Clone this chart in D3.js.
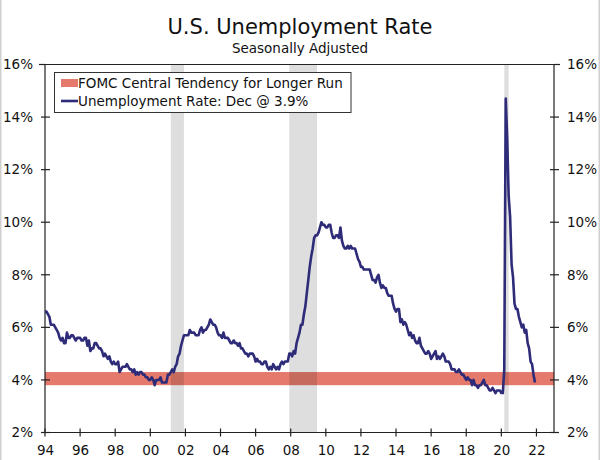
<!DOCTYPE html>
<html>
<head>
<meta charset="utf-8">
<script src="https://cdn.jsdelivr.net/npm/d3@7"></script>
<style>
	body { margin: 0; background: #fff; }
	svg text { font-family: "DejaVu Sans", Verdana, sans-serif; fill: #111; }
</style>
</head>
<body>
<svg id="chart" width="600" height="460"></svg>
<script>
var startYear = 1994;

// monthly, seasonally adjusted, Jan 1994 .. Dec 2021
var unemploymentRate = [
	6.6, 6.6, 6.5, 6.4, 6.1, 6.1, 6.1, 6.0, 5.9, 5.8, 5.6, 5.5, // 94
	5.6, 5.4, 5.4, 5.8, 5.6, 5.6, 5.7, 5.7, 5.6, 5.5, 5.6, 5.6, // 95
	5.6, 5.5, 5.5, 5.6, 5.6, 5.3, 5.5, 5.1, 5.2, 5.2, 5.4, 5.4, // 96
	5.3, 5.2, 5.2, 5.1, 4.9, 5.0, 4.9, 4.8, 4.9, 4.7, 4.6, 4.7, // 97
	4.6, 4.6, 4.7, 4.3, 4.4, 4.5, 4.5, 4.5, 4.6, 4.5, 4.4, 4.4, // 98
	4.3, 4.4, 4.2, 4.3, 4.2, 4.3, 4.3, 4.2, 4.2, 4.1, 4.1, 4.0, // 99
	4.0, 4.1, 4.0, 3.8, 4.0, 4.0, 4.0, 4.1, 3.9, 3.9, 3.9, 3.9, // 00
	4.2, 4.2, 4.3, 4.4, 4.3, 4.5, 4.6, 4.9, 5.0, 5.3, 5.5, 5.7, // 01
	5.7, 5.7, 5.7, 5.9, 5.8, 5.8, 5.8, 5.7, 5.7, 5.7, 5.9, 6.0, // 02
	5.8, 5.9, 5.9, 6.0, 6.1, 6.3, 6.2, 6.1, 6.1, 6.0, 5.8, 5.7, // 03
	5.7, 5.6, 5.8, 5.6, 5.6, 5.6, 5.5, 5.4, 5.4, 5.5, 5.4, 5.4, // 04
	5.3, 5.4, 5.2, 5.2, 5.1, 5.0, 5.0, 4.9, 5.0, 5.0, 5.0, 4.9, // 05
	4.7, 4.8, 4.7, 4.7, 4.6, 4.6, 4.7, 4.7, 4.5, 4.4, 4.5, 4.4, // 06
	4.6, 4.5, 4.4, 4.5, 4.4, 4.6, 4.7, 4.6, 4.7, 4.7, 4.7, 5.0, // 07
	5.0, 4.9, 5.1, 5.0, 5.4, 5.6, 5.8, 6.1, 6.1, 6.5, 6.8, 7.3, // 08
	7.8, 8.3, 8.7, 9.0, 9.4, 9.5, 9.5, 9.6, 9.8, 10.0, 9.9, 9.9, // 09
	9.8, 9.8, 9.9, 9.9, 9.6, 9.4, 9.4, 9.5, 9.5, 9.4, 9.8, 9.3, // 10
	9.1, 9.0, 9.0, 9.1, 9.0, 9.1, 9.0, 9.0, 9.0, 8.8, 8.6, 8.5, // 11
	8.3, 8.3, 8.2, 8.2, 8.2, 8.2, 8.2, 8.0, 7.8, 7.8, 7.7, 7.9, // 12
	8.0, 7.7, 7.5, 7.6, 7.5, 7.5, 7.3, 7.2, 7.2, 7.2, 6.9, 6.7, // 13
	6.6, 6.7, 6.7, 6.2, 6.3, 6.1, 6.2, 6.1, 5.9, 5.7, 5.8, 5.6, // 14
	5.7, 5.5, 5.4, 5.4, 5.6, 5.3, 5.2, 5.1, 5.0, 5.0, 5.1, 5.0, // 15
	4.8, 4.9, 5.0, 5.1, 4.8, 4.9, 4.8, 4.9, 5.0, 4.9, 4.7, 4.7, // 16
	4.7, 4.6, 4.4, 4.4, 4.4, 4.3, 4.3, 4.4, 4.3, 4.2, 4.2, 4.1, // 17
	4.0, 4.1, 4.0, 4.0, 3.8, 4.0, 3.8, 3.8, 3.7, 3.8, 3.8, 3.9, // 18
	4.0, 3.8, 3.8, 3.7, 3.6, 3.6, 3.7, 3.6, 3.5, 3.6, 3.6, 3.6, // 19
	3.5, 3.5, 4.4, 14.7, 13.2, 11.0, 10.2, 8.4, 7.9, 6.9, 6.7, 6.7, // 20
	6.4, 6.2, 6.0, 6.1, 5.8, 5.9, 5.4, 5.2, 4.7, 4.6, 4.2, 3.9  // 21
];

// recessions as [start, end] in fractional years
var recessions = [ [2001.167, 2001.917], [2007.917, 2009.5], [2020.167, 2020.417] ];
var fomcLongerRun = [3.8, 4.3];

var yTicks = [2, 4, 6, 8, 10, 12, 14, 16];
var xTicks = [1994, 1996, 1998, 2000, 2002, 2004, 2006, 2008, 2010, 2012, 2014, 2016, 2018, 2020, 2022];

var legendLabels = ["FOMC Central Tendency for Longer Run", "Unemployment Rate: Dec @ 3.9%"];

var lineColor = "#2e2b78",
	bandColor = "#e57a6c";

var margin = { top: 64.5, right: 46, bottom: 27.5, left: 45 },
	width = 600 - margin.left - margin.right,
	height = 460 - margin.top - margin.bottom;

var svg = d3.select("#chart");

svg.append("text")
	.attr("x", 300).attr("y", 34)
	.attr("text-anchor", "middle")
	.style("font-size", "21px")
	.text("U.S. Unemployment Rate");
svg.append("text")
	.attr("x", 300).attr("y", 53)
	.attr("text-anchor", "middle")
	.style("font-size", "13.5px")
	.text("Seasonally Adjusted");

// thin frame on the sides of the picture
svg.append("line").attr("x1", 0.75).attr("x2", 0.75).attr("y1", 0).attr("y2", 460)
	.attr("stroke", "#cfcfcf").attr("stroke-width", 1.5);
svg.append("line").attr("x1", 599.25).attr("x2", 599.25).attr("y1", 0).attr("y2", 460)
	.attr("stroke", "#cfcfcf").attr("stroke-width", 1.5);

var g = svg.append("g")
	.attr("transform", "translate(" + margin.left + "," + margin.top + ")");

var x = d3.scaleLinear().domain([1994, 2023]).range([0, width]);
var y = d3.scaleLinear().domain([2, 16]).range([height, 0]);

// FOMC band
g.append("rect")
	.attr("x", 0).attr("width", width)
	.attr("y", y(fomcLongerRun[1]))
	.attr("height", y(fomcLongerRun[0]) - y(fomcLongerRun[1]))
	.attr("fill", bandColor);

// recession shading
g.selectAll("rect.recession")
	.data(recessions)
	.enter().append("rect").classed("recession", true)
	.attr("x", function(d){ return x(d[0]); })
	.attr("width", function(d){ return x(d[1]) - x(d[0]); })
	.attr("y", 0).attr("height", height)
	.attr("fill", "#000").attr("fill-opacity", 0.13);

// axes
var tickSize = 4;
var leftAxis = d3.axisLeft(y).tickValues(yTicks).tickSize(0).tickPadding(12)
	.tickFormat(function(d){ return d + "%"; });
var rightAxis = d3.axisRight(y).tickValues(yTicks).tickSize(0).tickPadding(13)
	.tickFormat(function(d){ return d + "%"; });
var bottomAxis = d3.axisBottom(x).tickValues(xTicks).tickSize(0).tickPadding(13)
	.tickFormat(function(d){ return d3.format("02")(d % 100); });

function styleAxis( sel ){
	sel.select(".domain").remove();
	sel.selectAll("text").style("font-size", "13.5px").attr("fill", "#111")
		.style("font-family", "\"DejaVu Sans\", Verdana, sans-serif");
}

g.append("g").call(leftAxis).call(styleAxis);
g.append("g").attr("transform", "translate(" + width + ",0)").call(rightAxis).call(styleAxis);
g.append("g").attr("transform", "translate(0," + height + ")").call(bottomAxis).call(styleAxis);

// frame: left, top, right, bottom
g.append("path")
	.attr("d", "M0," + height + "V0H" + width + "V" + height + "H0")
	.attr("fill", "none").attr("stroke", "#222").attr("stroke-width", 1.2);

// cross ticks on both y axes, inward/outward ticks on x axis
[0, width].forEach(function(px){
	g.selectAll(null)
		.data(yTicks.filter(function(d){ return d != 16; }))
		.enter().append("line")
		.attr("x1", px - tickSize).attr("x2", px + tickSize + 1)
		.attr("y1", function(d){ return y(d); }).attr("y2", function(d){ return y(d); })
		.attr("stroke", "#222").attr("stroke-width", 1.2);
});
g.append("line").attr("x1", width).attr("x2", width + tickSize + 2)
	.attr("y1", 0).attr("y2", 0).attr("stroke", "#222").attr("stroke-width", 1.2);
g.append("line").attr("x1", -tickSize - 2).attr("x2", 0)
	.attr("y1", 0).attr("y2", 0).attr("stroke", "#222").attr("stroke-width", 1.2);
g.selectAll(null)
	.data(xTicks)
	.enter().append("line")
	.attr("x1", function(d){ return x(d); }).attr("x2", function(d){ return x(d); })
	.attr("y1", height - tickSize).attr("y2", height + tickSize)
	.attr("stroke", "#222").attr("stroke-width", 1.2);

// unemployment line
var line = d3.line()
	.x(function(d, i){ return x(startYear + i / 12); })
	.y(function(d){ return y(d); });

g.append("path")
	.datum(unemploymentRate)
	.attr("d", line)
	.attr("fill", "none")
	.attr("stroke", lineColor)
	.attr("stroke-width", 2.6)
	.attr("stroke-linejoin", "round");

// legend
var legend = svg.append("g").attr("transform", "translate(54.5,72.5)");
legend.append("rect")
	.attr("width", 296.5).attr("height", 40)
	.attr("fill", "#fff").attr("stroke", "#333").attr("stroke-width", 1);
legend.append("rect")
	.attr("x", 6.5).attr("y", 6.5).attr("width", 17).attr("height", 8)
	.attr("fill", bandColor);
legend.append("line")
	.attr("x1", 6.5).attr("x2", 23.5).attr("y1", 28.5).attr("y2", 28.5)
	.attr("stroke", lineColor).attr("stroke-width", 2.6);
legend.selectAll("text")
	.data(legendLabels)
	.enter().append("text")
	.attr("x", 23.5)
	.attr("y", function(d, i){ return 15 + i * 18; })
	.style("font-size", "13.5px")
	.text(function(d){ return d; });
</script>
</body>
</html>
